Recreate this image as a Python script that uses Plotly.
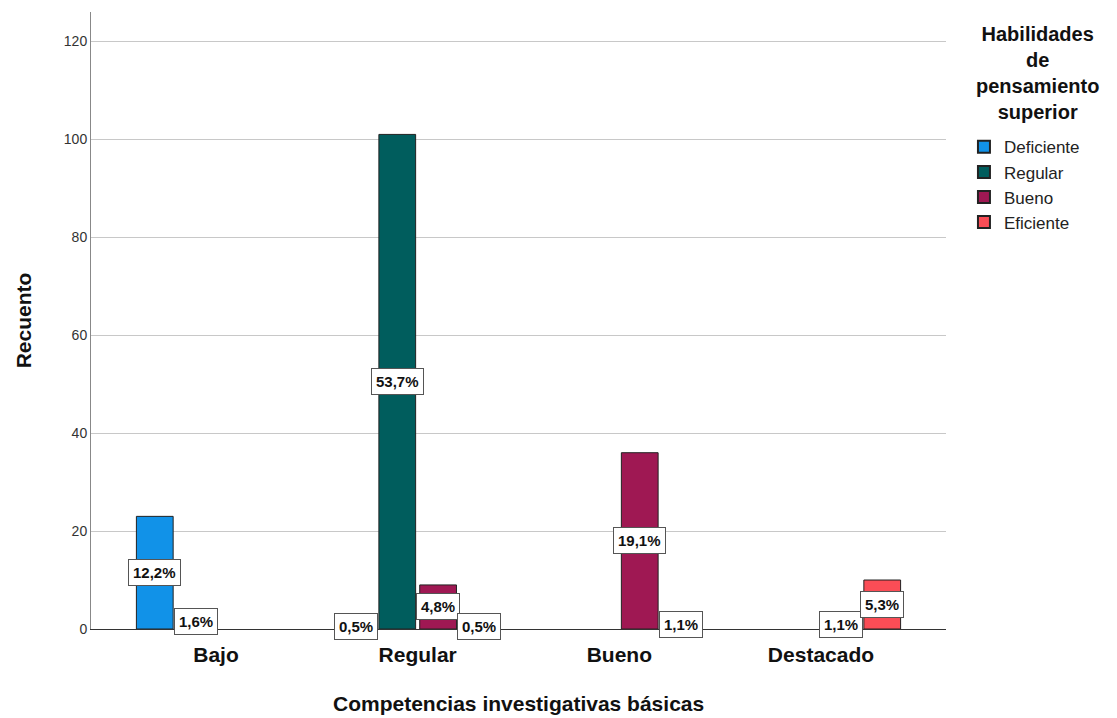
import plotly.graph_objects as go

# Clustered bar chart: counts of "Habilidades de pensamiento superior"
# within each level of "Competencias investigativas básicas"
categories = ["Bajo", "Regular", "Bueno", "Destacado"]
series_names = ["Deficiente", "Regular", "Bueno", "Eficiente"]
colors = ["#1192e8", "#005d5d", "#9f1853", "#fa4d56"]

deficiente = [23, 1, 0, 0]
regular = [3, 101, 0, 0]
bueno = [0, 9, 36, 2]
eficiente = [0, 1, 2, 10]

series_values = [deficiente, regular, bueno, eficiente]
y_ticks = [0, 20, 40, 60, 80, 100, 120]

total = sum(sum(v) for v in series_values)
BARGAP = 0.19
BARGROUPGAP = 0.1
FONT = "Arial, Liberation Sans, sans-serif"

fig = go.Figure()
for name, vals, col in zip(series_names, series_values, colors):
    fig.add_trace(go.Bar(
        name=name,
        x=categories,
        y=[v if v > 0 else None for v in vals],
        marker=dict(color=col, line=dict(color="#222222", width=1)),
        hoverinfo="x+y+name",
    ))

# Percentage-of-total labels, boxed, centred on each bar's midpoint
slot = (1 - BARGAP) / len(series_names)
for i, vals in enumerate(series_values):
    offset = (i - (len(series_names) - 1) / 2) * slot
    for j, v in enumerate(vals):
        if v <= 0:
            continue
        pct = f"{v / total * 100:.1f}".replace(".", ",") + "%"
        fig.add_annotation(
            x=j + offset, y=v / 2, xref="x", yref="y",
            text=f"<b>{pct}</b>", showarrow=False,
            font=dict(family=FONT, size=15, color="#111111"),
            bgcolor="white", bordercolor="#555555", borderwidth=1, borderpad=4,
        )

# Legend heading, centred above the legend entries
fig.add_annotation(
    x=1.107, y=0.985, xref="paper", yref="paper",
    xanchor="center", yanchor="top", align="center", showarrow=False,
    text="<b>Habilidades<br>de<br>pensamiento<br>superior</b>",
    font=dict(size=20, family=FONT, color="#111111"),
)

# Horizontal axis title, placed below the category labels
fig.add_annotation(
    x=0.5, y=-0.12, xref="paper", yref="paper",
    xanchor="center", yanchor="middle", showarrow=False,
    text="<b>Competencias investigativas básicas</b>",
    font=dict(size=21, family=FONT, color="#111111"),
)

fig.update_layout(
    width=1117, height=718,
    margin=dict(l=91, r=171, t=12, b=89),
    paper_bgcolor="white", plot_bgcolor="white",
    barmode="group", bargap=BARGAP, bargroupgap=BARGROUPGAP,
    font=dict(family=FONT, color="#111111"),
    showlegend=True,
    legend=dict(
        x=1.021, xanchor="left", y=0.81, yanchor="top",
        font=dict(size=17, family=FONT, color="#222222"),
        tracegroupgap=0, itemsizing="constant", itemwidth=30,
        bgcolor="rgba(0,0,0,0)",
    ),
    xaxis=dict(
        type="category",
        range=[-0.62, 3.62],
        tickfont=dict(size=21, family=FONT, color="#111111"),
        tickvals=categories,
        ticktext=[f"<b>{c}</b>" for c in categories],
        showline=True, linecolor="#333333", linewidth=1,
        ticks="outside", ticklen=7, tickcolor="rgba(0,0,0,0)", showgrid=False,
        automargin=False,
    ),
    yaxis=dict(
        range=[0, 126],
        tickvals=y_ticks,
        tickfont=dict(size=14, family=FONT, color="#333333"),
        showgrid=True, gridcolor="#c8c8c8", gridwidth=1,
        showline=True, linecolor="#888888", linewidth=1,
        ticks="outside", ticklen=0, zeroline=False,
        title=dict(text="<b>Recuento</b>",
                   font=dict(size=21, family=FONT, color="#111111"), standoff=26),
    ),
)

fig.write_html("out.html")
